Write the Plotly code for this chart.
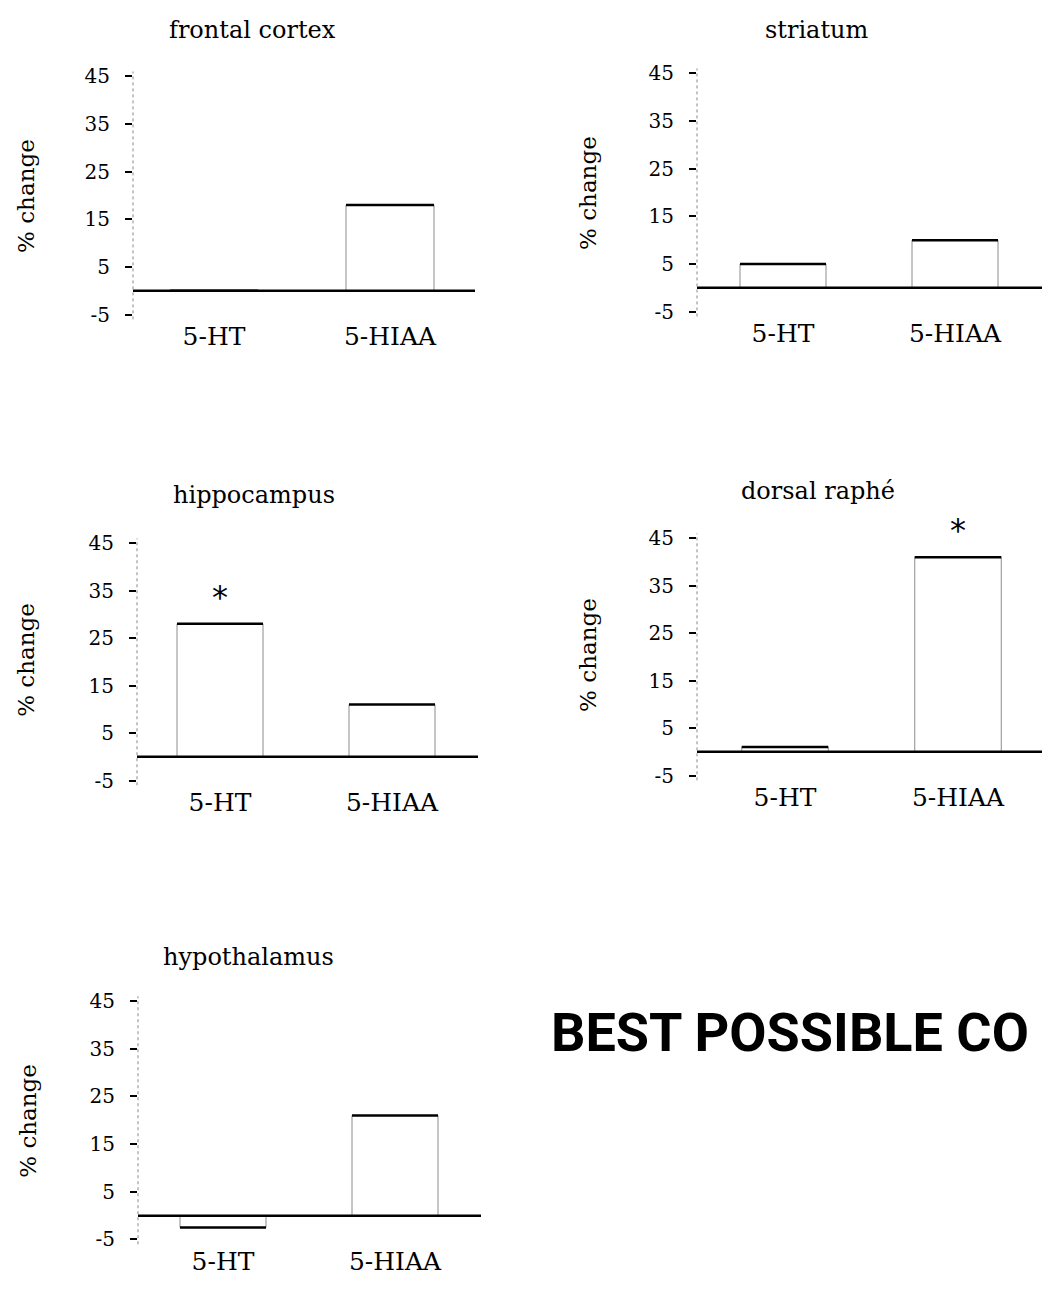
import plotly.graph_objects as go

# ---------------- data ----------------
regions = ["frontal cortex", "striatum", "hippocampus", "dorsal raphé", "hypothalamus"]
categories = ["5-HT", "5-HIAA"]
ht_change = [0, 5, 28, 1, -2.5]
hiaa_change = [18, 10, 11, 41, 21]
ht_significant = [False, False, True, False, False]
hiaa_significant = [False, False, False, True, False]
y_tick_values = [-5, 5, 15, 25, 35, 45]
y_tick_labels = ["-5", "5", "15", "25", "35", "45"]
y_axis_label = "% change"
footer_text = "BEST POSSIBLE CO"

# ---------------- layout (pixels) ----------------
W, H = 1042, 1290
panels = [
    dict(left=133, right=475, y45=70, yn5=311, c0=214, c1=390, title=(252, 23), ytitle=(26, 191)),
    dict(left=697, right=1042, y45=67, yn5=308, c0=783, c1=955, title=(817, 23), ytitle=(588, 188)),
    dict(left=137, right=478, y45=542, yn5=782, c0=220, c1=392, title=(254, 493), ytitle=(26, 660)),
    dict(left=697, right=1042, y45=537, yn5=777, c0=785, c1=958, title=(818, 489), ytitle=(588, 655)),
    dict(left=138, right=481, y45=1005, yn5=1246, c0=223, c1=395, title=(248, 960), ytitle=(28, 1126)),
]
SERIF = "DejaVu Serif, Liberation Serif, serif"
BAR_W = 0.5


def px(x):
    return x / W


def py(y):
    return 1 - y / H


fig = go.Figure()
layout = {}
shapes = []
annotations = []

for i, p in enumerate(panels):
    n = "" if i == 0 else str(i + 1)
    xa, ya = "x" + n, "y" + n
    unit_y = (p["yn5"] - p["y45"]) / 50.0
    top = p["y45"] - unit_y * 1
    bot = p["yn5"] + unit_y * 1
    span = p["c1"] - p["c0"]
    xr = [(p["left"] - p["c0"]) / span, (p["right"] - p["c0"]) / span]
    vals = [ht_change[i], hiaa_change[i]]
    sig = [ht_significant[i], hiaa_significant[i]]

    fig.add_trace(go.Bar(
        x=[0, 1], y=vals, width=BAR_W,
        marker=dict(color="white", line=dict(color="#8c8c8c", width=1)),
        xaxis=xa, yaxis=ya, showlegend=False, hoverinfo="skip",
    ))
    for k, v in enumerate(vals):
        fig.add_trace(go.Scatter(
            x=[k - BAR_W / 2, k + BAR_W / 2], y=[v, v], mode="lines",
            line=dict(color="black", width=2.5),
            xaxis=xa, yaxis=ya, showlegend=False, hoverinfo="skip",
        ))
        if sig[k]:
            annotations.append(dict(
                x=k, y=v, xref=xa, yref=ya, text="*", showarrow=False,
                yanchor="bottom", yshift=6,
                font=dict(family="DejaVu Sans", size=32, color="black"),
            ))

    layout["xaxis" + n] = dict(
        domain=[px(p["left"]), px(p["right"])], range=xr,
        tickvals=[0, 1], ticktext=categories,
        showgrid=False, zeroline=False, showline=False, ticks="",
        tickfont=dict(family=SERIF, size=25, color="black"),
        ticklabelstandoff=0,
        anchor=ya, fixedrange=True,
    )
    layout["yaxis" + n] = dict(
        domain=[py(bot), py(top)], range=[-6, 46],
        tickvals=y_tick_values, ticktext=y_tick_labels,
        showgrid=False, zeroline=False, showline=False,
        ticks="outside", ticklen=7, tickwidth=2, tickcolor="black",
        tickfont=dict(family=SERIF, size=20, color="black"),
        ticklabelstandoff=11,
        anchor=xa, fixedrange=True,
    )

    # zero baseline
    shapes.append(dict(type="line", xref=xa + " domain", yref=ya,
                       x0=0, x1=1, y0=0, y1=0,
                       line=dict(color="black", width=2.5)))
    # faint dotted y axis line
    shapes.append(dict(type="line", xref=xa + " domain", yref=ya + " domain",
                       x0=0, x1=0, y0=0, y1=1,
                       line=dict(color="#888888", width=1, dash="dot")))

    # panel title
    annotations.append(dict(
        x=px(p["title"][0]), y=py(p["title"][1]), xref="paper", yref="paper",
        text=regions[i], showarrow=False, xanchor="center", yanchor="middle",
        font=dict(family=SERIF, size=24, color="black"),
    ))
    # y axis title
    annotations.append(dict(
        x=px(p["ytitle"][0]), y=py(p["ytitle"][1]), xref="paper", yref="paper",
        text=y_axis_label, showarrow=False, textangle=-90,
        xanchor="center", yanchor="middle",
        font=dict(family=SERIF, size=23, color="black"),
    ))

annotations.append(dict(
    x=px(549), y=py(1037), xref="paper", yref="paper",
    text=footer_text, showarrow=False, xanchor="left", yanchor="middle",
    font=dict(family="Roboto, Liberation Sans, sans-serif",
              size=54, weight="bold", color="black"),
))

fig.update_layout(
    width=W, height=H,
    margin=dict(l=0, r=0, t=0, b=0),
    paper_bgcolor="white", plot_bgcolor="white",
    shapes=shapes, annotations=annotations,
    barmode="overlay",
    **layout,
)

fig.write_html("out.html", config={"displayModeBar": False})
